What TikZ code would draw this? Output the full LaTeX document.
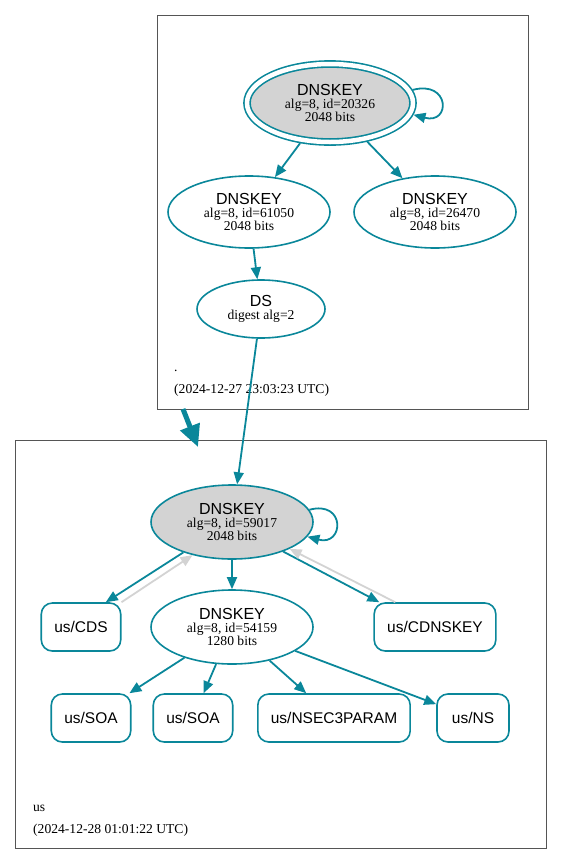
\documentclass[tikz,border=0pt]{standalone}
\usepackage{fontspec}
\setmainfont{Liberation Serif}
\setsansfont{Liberation Sans}
\usetikzlibrary{shapes.geometric,arrows.meta}
\definecolor{dnsteal}{HTML}{0A879A}
\definecolor{keyfill}{HTML}{D3D3D3}
\definecolor{zonegray}{HTML}{555555}
\newcommand{\keytitle}[1]{{\sffamily\fontsize{16}{16}\selectfont #1}}
\begin{document}
\begin{tikzpicture}[x=1pt,y=1pt,
		keynode/.style={ellipse, draw=dnsteal, line width=1.6pt, align=center, font=\fontsize{13.6}{13}\selectfont, minimum width=162pt, minimum height=72pt},
		ksknode/.style={keynode, fill=keyfill, double=white, double distance=4.5pt, outer sep=3.8pt, minimum width=166pt, minimum height=78pt},
		rrnode/.style={rectangle, rounded corners=11pt, draw=dnsteal, line width=1.6pt, font=\sffamily\fontsize{15.5}{16}\selectfont, inner xsep=13pt, minimum height=48pt, minimum width=72pt},
		sigarrow/.style={dnsteal, line width=1.8pt, -{Triangle[length=12pt,width=10pt]}},
		backarrow/.style={keyfill, line width=1.8pt, -{Triangle[length=12pt,width=10pt]}},
		zonebox/.style={draw=zonegray, line width=0.8pt},
		zonelabel/.style={anchor=base west, inner sep=0pt, font=\fontsize{13.6}{16}\selectfont}]
		\useasboundingbox (0,0) rectangle (563,-865);
		% zones
		\draw[zonebox] (157,-15) rectangle (528,-409);
		\draw[zonebox] (15,-440) rectangle (546,-848);
		% root zone
		\node[ksknode] (ksk20326) at (330,-103) {\keytitle{DNSKEY}\\alg=8, id=20326\\2048 bits};
		\node[keynode] (k61050) at (249,-212) {\keytitle{DNSKEY}\\alg=8, id=61050\\2048 bits};
		\node[keynode] (k26470) at (435,-212) {\keytitle{DNSKEY}\\alg=8, id=26470\\2048 bits};
		\node[keynode, minimum width=128pt, minimum height=58pt] (ds) at (261,-309) {\keytitle{DS}\\digest alg=2};
		\node[zonelabel] (rootname) at (174,-371) {.};
		\node[zonelabel] (rootstamp) at (174,-393) {(2024-12-27 23:03:23 UTC)};
		% us zone
		\node[keynode, fill=keyfill, minimum height=74pt] (k59017) at (232,-522) {\keytitle{DNSKEY}\\alg=8, id=59017\\2048 bits};
		\node[keynode, minimum height=74pt] (k54159) at (232,-627) {\keytitle{DNSKEY}\\alg=8, id=54159\\1280 bits};
		\node[rrnode] (cds) at (81,-627) {us/CDS};
		\node[rrnode] (cdnskey) at (435,-627) {us/CDNSKEY};
		\node[rrnode] (soa1) at (91,-718) {us/SOA};
		\node[rrnode] (soa2) at (193,-718) {us/SOA};
		\node[rrnode] (nsec3param) at (334,-718) {us/NSEC3PARAM};
		\node[rrnode] (ns) at (473,-718) {us/NS};
		\node[zonelabel] (usname) at (33,-811) {us};
		\node[zonelabel] (usstamp) at (33,-833) {(2024-12-28 01:01:22 UTC)};
		% delegation
		\coordinate (dlgfrom) at (183,-409);
		\coordinate (dlgto) at (198,-447);
		\draw[sigarrow, line width=5pt, -{Triangle[length=22pt,width=20pt]}] (dlgfrom) -- (dlgto);
		% signatures
		\draw[sigarrow] (ksk20326.9) to[out=15,in=-15,looseness=4] (ksk20326.-8);
		\draw[sigarrow] (ksk20326) -- (k61050);
		\draw[sigarrow] (ksk20326) -- (k26470);
		\draw[sigarrow] (k61050) -- (ds);
		\draw[sigarrow] (ds) -- (k59017);
		\draw[sigarrow] (k59017.9) to[out=15,in=-15,looseness=3.6] (k59017.-11);
		\draw[sigarrow] (k59017) -- (k54159);
		\draw[sigarrow] (k59017.212) -- (cds.45);
		\draw[backarrow] (cds.north east) -- (k59017.220);
		\draw[sigarrow] (k59017.330) -- (cdnskey.156);
		\draw[backarrow] (cdnskey.148) -- (k59017.335);
		\draw[sigarrow] (k54159) -- (soa1);
		\draw[sigarrow] (k54159) -- (soa2);
		\draw[sigarrow] (k54159) -- (nsec3param);
		\draw[sigarrow] (k54159) -- (ns);
\end{tikzpicture}
\end{document}
